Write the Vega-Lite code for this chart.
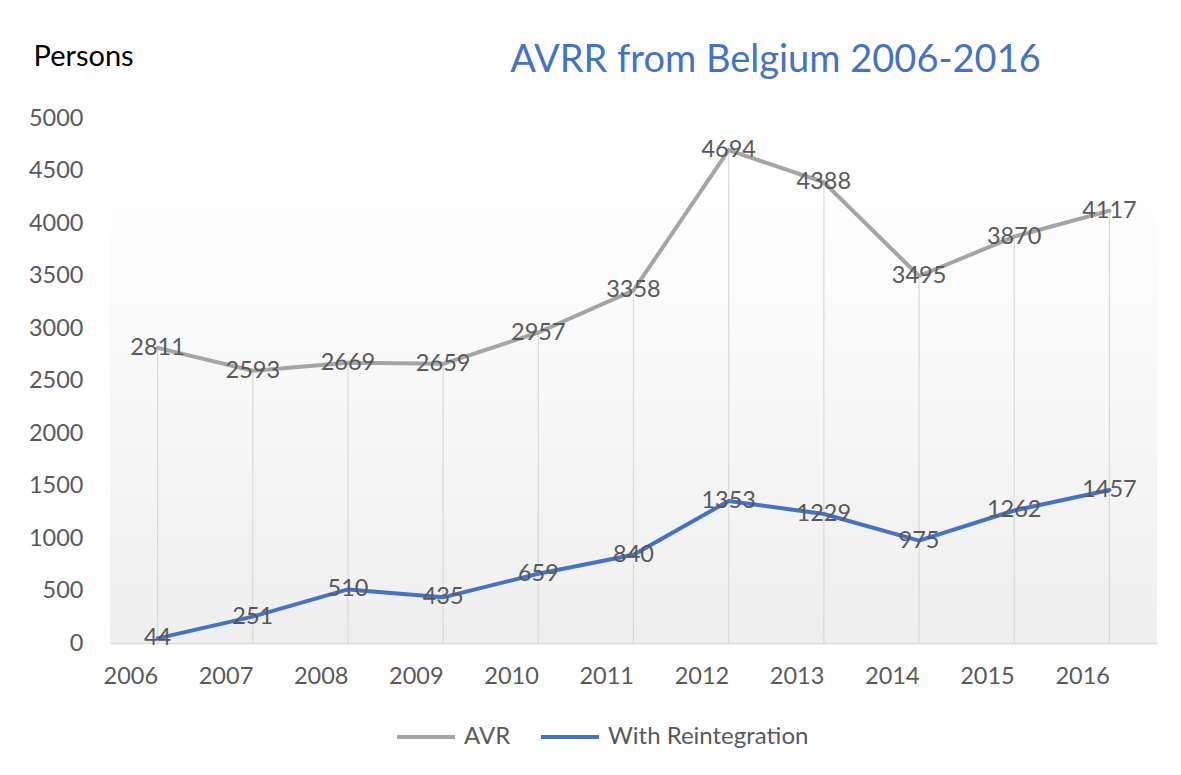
{
  "$schema": "https://vega.github.io/schema/vega-lite/v6.json",
  "width": 1047,
  "height": 525,
  "autosize": {"type": "none"},
  "padding": {"left": 110, "top": 118, "right": 24, "bottom": 132},
  "background": "#ffffff",
  "title": {
    "text": "AVRR from Belgium 2006-2016",
    "color": "#4472c4",
    "font": "Lato",
    "fontSize": 38,
    "fontWeight": "normal",
    "anchor": "middle",
    "frame": "group",
    "dx": 142,
    "dy": 68,
    "baseline": "alphabetic",
    "offset": 0
  },
  "data": {
    "values": [
      {"year": "2006", "series": "AVR", "value": 2811},
      {"year": "2007", "series": "AVR", "value": 2593},
      {"year": "2008", "series": "AVR", "value": 2669},
      {"year": "2009", "series": "AVR", "value": 2659},
      {"year": "2010", "series": "AVR", "value": 2957},
      {"year": "2011", "series": "AVR", "value": 3358},
      {"year": "2012", "series": "AVR", "value": 4694},
      {"year": "2013", "series": "AVR", "value": 4388},
      {"year": "2014", "series": "AVR", "value": 3495},
      {"year": "2015", "series": "AVR", "value": 3870},
      {"year": "2016", "series": "AVR", "value": 4117},
      {"year": "2006", "series": "With Reintegration", "value": 44},
      {"year": "2007", "series": "With Reintegration", "value": 251},
      {"year": "2008", "series": "With Reintegration", "value": 510},
      {"year": "2009", "series": "With Reintegration", "value": 435},
      {"year": "2010", "series": "With Reintegration", "value": 659},
      {"year": "2011", "series": "With Reintegration", "value": 840},
      {"year": "2012", "series": "With Reintegration", "value": 1353},
      {"year": "2013", "series": "With Reintegration", "value": 1229},
      {"year": "2014", "series": "With Reintegration", "value": 975},
      {"year": "2015", "series": "With Reintegration", "value": 1262},
      {"year": "2016", "series": "With Reintegration", "value": 1457}
    ]
  },
  "layer": [
    {
      "data": {"values": [{"bottom": 0, "top": 4430}]},
      "mark": {
        "type": "rect",
        "fill": {
          "gradient": "linear",
          "x1": 0, "y1": 0, "x2": 0, "y2": 1,
          "stops": [
            {"offset": 0, "color": "#ffffff"},
            {"offset": 1, "color": "#efefef"}
          ]
        }
      },
      "encoding": {
        "y": {"field": "bottom", "type": "quantitative", "scale": {"domain": [0, 5000]}},
        "y2": {"field": "top"}
      }
    },
    {
      "transform": [{"filter": "datum.series === 'AVR'"}],
      "mark": {"type": "rule", "color": "#d9d9d9", "strokeWidth": 1.2},
      "encoding": {
        "x": {"field": "year", "type": "ordinal", "scale": {"type": "point", "padding": 0.5}},
        "y": {"field": "value", "type": "quantitative"},
        "y2": {"datum": 0}
      }
    },
    {
      "mark": {"type": "line", "strokeWidth": 4, "strokeCap": "round", "strokeJoin": "round"},
      "encoding": {
        "x": {
          "field": "year",
          "type": "ordinal",
          "scale": {"type": "point", "padding": 0.5},
          "axis": {
            "title": null,
            "labelAngle": 0,
            "labelFont": "Lato",
            "labelFontSize": 23.5,
            "labelColor": "#595959",
            "labelPadding": 33,
            "ticks": false,
            "grid": false,
            "domain": true,
            "domainColor": "#d9d9d9",
            "domainWidth": 1.5
          }
        },
        "y": {
          "field": "value",
          "type": "quantitative",
          "scale": {"domain": [0, 5000]},
          "axis": {
            "values": [0, 500, 1000, 1500, 2000, 2500, 3000, 3500, 4000, 4500, 5000],
            "format": "d",
            "title": "Persons",
            "titleAngle": 0,
            "titleAlign": "left",
            "titleBaseline": "alphabetic",
            "titleX": -77,
            "titleY": -53,
            "titleFont": "Lato",
            "titleFontSize": 29,
            "titleFontWeight": "normal",
            "titleColor": "#000000",
            "labelFont": "Lato",
            "labelFontSize": 23.5,
            "labelColor": "#595959",
            "labelPadding": 27,
            "ticks": false,
            "domain": false,
            "grid": false
          }
        },
        "color": {
          "field": "series",
          "type": "nominal",
          "scale": {"domain": ["AVR", "With Reintegration"], "range": ["#a5a5a5", "#4472c4"]},
          "legend": {
            "title": null,
            "orient": "none",
            "direction": "horizontal",
            "legendX": 285,
            "legendY": 588,
            "symbolType": "stroke",
            "symbolSize": 3364,
            "symbolStrokeWidth": 4,
            "labelFont": "Lato",
            "labelFontSize": 24,
            "labelColor": "#595959",
            "labelOffset": 7,
            "labelLimit": 400,
            "columnPadding": 22
          }
        }
      }
    },
    {
      "mark": {"type": "text", "font": "Lato", "fontSize": 23.5, "color": "#595959", "align": "center", "baseline": "middle"},
      "encoding": {
        "x": {"field": "year", "type": "ordinal", "scale": {"type": "point", "padding": 0.5}},
        "y": {"field": "value", "type": "quantitative"},
        "text": {"field": "value", "type": "quantitative"}
      }
    }
  ],
  "config": {
    "view": {"stroke": null}
  }
}
